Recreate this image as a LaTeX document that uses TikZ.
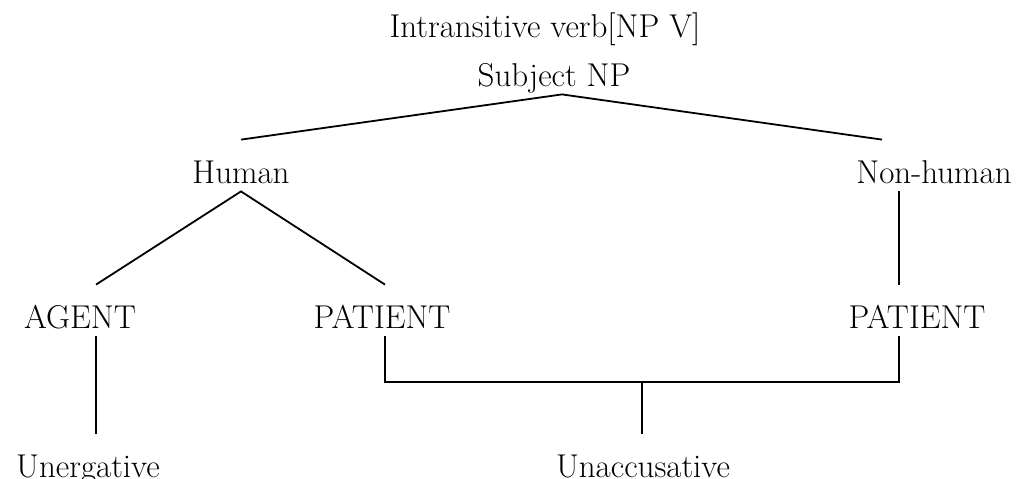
\documentclass[tikz,border=0pt]{standalone}
\usetikzlibrary{positioning}
\begin{document}
\begin{tikzpicture}[x=0.5pt, y=-0.5pt,
    word/.style={anchor=base, inner xsep=0pt, inner ysep=4pt,
        text height=17.5pt, text depth=0pt,
        font=\fontsize{16.5}{19}\selectfont},
    branch/.style={line width=0.9pt}]
    \useasboundingbox (0,0) rectangle (1021,478);

    % top labels
    \node[word] (verb) at (545,37) {Intransitive verb[NP V]};
    \node[word] (subj) at (554,86) {Subject NP};

    % second level
    \node[word] (hum) at (241,183) {Human};
    \node[word] (nonhum) at (934,183) {Non-human};

    % roles
    \node[word] (agent) at (80,328) {AGENT};
    \node[word] (patl) at (382,328) {PATIENT};
    \node[word] (patr) at (917,328) {PATIENT};
    \draw[branch] (hum.north) -- ([xshift=4pt]subj.south)
        -- ([xshift=-17.5pt]patr.north |- nonhum.north);
    \draw[branch] ([xshift=8pt]agent.north) -- (hum.south) -- ([xshift=1.5pt]patl.north);
    \draw[branch] ([xshift=-9pt]patr.north |- nonhum.south) -- ([xshift=-9pt]patr.north);

    % verb classes
    \node[word] (unerg) at (88,477) {Unergative};
    \node[word] (unacc) at (643,477) {Unaccusative};
    \coordinate (bar) at (642,382);
    \draw[branch] ([xshift=8pt]agent.south) -- ([xshift=8pt]agent.south |- unerg.north);
    \draw[branch] ([xshift=1.5pt]patl.south) |- (bar) -| ([xshift=-9pt]patr.south);
    \draw[branch] (bar) -- (bar |- unacc.north);
\end{tikzpicture}
\end{document}
